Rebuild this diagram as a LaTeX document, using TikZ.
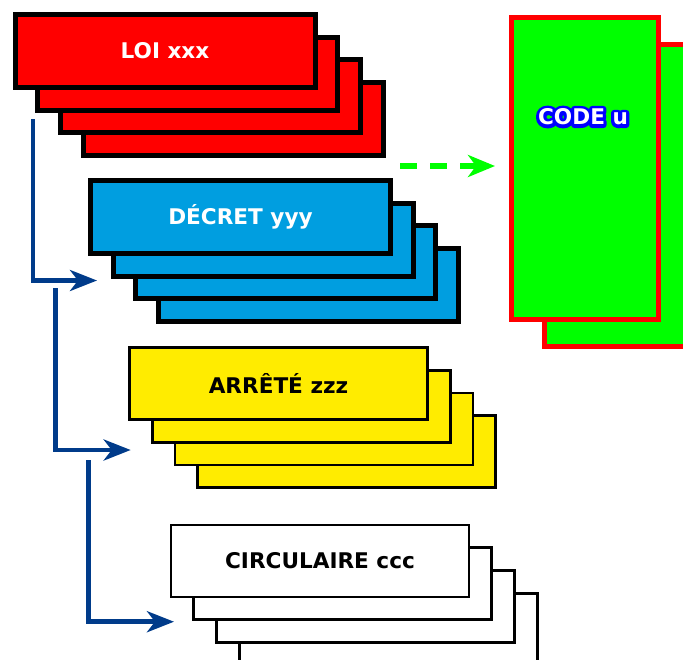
\documentclass[tikz,border=0pt]{standalone}
\usepackage{fontspec}
\setmainfont{DejaVu Sans}
\usetikzlibrary{arrows.meta}
\pgfdeclarelayer{edgelayer}
\pgfdeclarelayer{nodelayer}
\pgfsetlayers{edgelayer,nodelayer,main}
\definecolor{loired}{RGB}{255,0,0}
\definecolor{decretblue}{RGB}{0,158,224}
\definecolor{arreteyellow}{RGB}{255,236,0}
\definecolor{codegreen}{RGB}{0,255,0}
\definecolor{codeblue}{RGB}{0,0,255}
\definecolor{linkblue}{RGB}{0,59,138}
\newcommand{\boxfont}{\fontsize{10.8pt}{12pt}\selectfont\bfseries}
% stroked copy below, white fill on top
\newcommand{\outlined}[1]{%
	\rlap{\color{codeblue}\special{pdf:literal direct 1 Tr 3.2 w 1 j}#1\special{pdf:literal direct 0 Tr 1 w 0 j}}%
	{\color{white}#1}}
\tikzstyle{none}=[inner sep=0pt]
\tikzstyle{heavy box}=[rectangle, draw=black, line width=2.5pt, minimum width=150pt, minimum height=36.5pt, inner sep=0pt, font=\boxfont]
\tikzstyle{loi}=[heavy box, fill=loired, text=white]
\tikzstyle{decret}=[heavy box, fill=decretblue, text=white]
\tikzstyle{light box}=[rectangle, draw=black, line width=1.4pt, minimum width=149pt, minimum height=36pt, inner sep=0pt, font=\boxfont, text=black]
\tikzstyle{arrete}=[light box, fill=arreteyellow]
\tikzstyle{circulaire}=[light box, fill=white]
\tikzstyle{code}=[rectangle, draw=loired, fill=codegreen, line width=2.5pt, minimum width=73.5pt, minimum height=151pt]
\tikzstyle{down link}=[draw=linkblue, line width=2.3pt, -{Stealth[length=13.5pt,width=10.5pt,inset=4pt]}]
\tikzstyle{code link}=[draw=codegreen, line width=2.6pt, dash pattern=on 8.5pt off 6.5pt, -{Stealth[length=13.5pt,width=11pt,inset=4pt]}]

\begin{document}
\begin{tikzpicture}[x=5pt, y=5pt]
	\useasboundingbox (0, 0) rectangle (68.3, -65.9);
	\begin{pgfonlayer}{nodelayer}
		% loi
		\node [style=loi] (0) at (23.31, -11.91) {};
		\node [style=loi] (1) at (21.04, -9.64) {};
		\node [style=loi] (2) at (18.77, -7.37) {};
		\node [style=loi] (3) at (16.5, -5.1) {LOI xxx};
		% decret
		\node [style=decret] (4) at (30.86, -28.51) {};
		\node [style=decret] (5) at (28.59, -26.24) {};
		\node [style=decret] (6) at (26.32, -23.97) {};
		\node [style=decret] (7) at (24.05, -21.7) {DÉCRET yyy};
		% arrete
		\node [style=arrete] (8) at (34.66, -45.16) {};
		\node [style=arrete] (9) at (32.39, -42.89) {};
		\node [style=arrete] (10) at (30.12, -40.62) {};
		\node [style=arrete] (11) at (27.85, -38.35) {ARRÊTÉ zzz};
		% circulaire
		\node [style=circulaire] (12) at (38.81, -62.91) {};
		\node [style=circulaire] (13) at (36.54, -60.64) {};
		\node [style=circulaire] (14) at (34.27, -58.37) {};
		\node [style=circulaire] (15) at (32, -56.1) {CIRCULAIRE ccc};
		% code
		\node [style=code] (16) at (61.83, -19.58) {};
		\node [style=code] (17) at (58.53, -16.82) {};
		\node [style=none, font=\boxfont] (18) at (58.3, -11.7) {\outlined{CODE u}};
		% arrow ends
		\node [style=none] (19) at (3.3, -11.9) {};
		\node [style=none] (20) at (9.7, -28.05) {};
		\node [style=none] (21) at (5.55, -28.8) {};
		\node [style=none] (22) at (13.07, -45.0) {};
		\node [style=none] (23) at (8.83, -46.0) {};
		\node [style=none] (24) at (17.4, -62.17) {};
		\node [style=none] (25) at (40.0, -16.6) {};
		\node [style=none] (26) at (49.5, -16.6) {};
	\end{pgfonlayer}
	\begin{pgfonlayer}{edgelayer}
		\draw [style=down link] (19.center) |- (20.center);
		\draw [style=down link] (21.center) |- (22.center);
		\draw [style=down link] (23.center) |- (24.center);
		\draw [style=code link] (25.center) to (26.center);
	\end{pgfonlayer}
\end{tikzpicture}
\end{document}
